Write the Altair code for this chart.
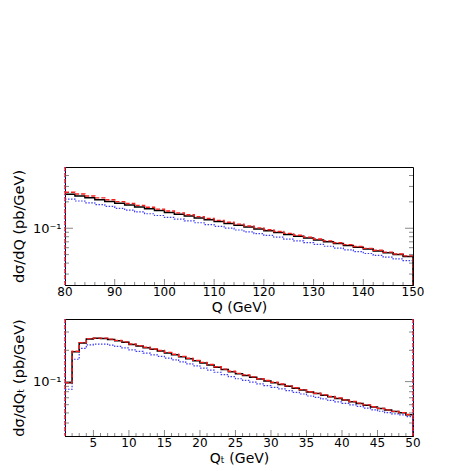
import altair as alt
import pandas as pd

# ---------------- data ----------------
q_lo, q_hi, q_bw = 80, 150, 2
q_black = [0.245, 0.2335, 0.2225, 0.2121, 0.2021, 0.1926, 0.1836, 0.1749, 0.1667, 0.1589,
           0.1514, 0.1443, 0.1375, 0.1311, 0.1249, 0.1190, 0.1134, 0.1081, 0.1030, 0.0982,
           0.0936, 0.0892, 0.0850, 0.0810, 0.0772, 0.0735, 0.0701, 0.0668, 0.0636, 0.0606,
           0.0578, 0.0551, 0.0525, 0.0500, 0.0477]
q_red = [0.258, 0.2455, 0.2335, 0.222, 0.2115, 0.2012, 0.1915, 0.1822, 0.1735, 0.1652,
         0.1572, 0.1497, 0.1427, 0.1358, 0.1293, 0.1230, 0.1171, 0.1115, 0.1062, 0.1011,
         0.0963, 0.0917, 0.0873, 0.0831, 0.0791, 0.0753, 0.0717, 0.0683, 0.0650, 0.0619,
         0.0589, 0.0561, 0.0534, 0.0508, 0.0484]
q_blue = [0.215, 0.2045, 0.195, 0.1858, 0.1772, 0.1688, 0.1611, 0.1536, 0.1464, 0.1397,
          0.1332, 0.1270, 0.1211, 0.1155, 0.1101, 0.1050, 0.1001, 0.0955, 0.0911, 0.0868,
          0.0828, 0.0790, 0.0753, 0.0718, 0.0685, 0.0653, 0.0623, 0.0594, 0.0566, 0.0540,
          0.0515, 0.0491, 0.0469, 0.0447, 0.0428]

qt_lo, qt_hi, qt_bw = 1, 50, 1
qt_black = [0.0977, 0.194, 0.2355, 0.257, 0.2606, 0.260, 0.254, 0.247, 0.2388, 0.228,
            0.2198, 0.2118, 0.2042, 0.1968, 0.1888, 0.1816, 0.1738, 0.166, 0.1585, 0.1514,
            0.1445, 0.1374, 0.1309, 0.1247, 0.1191, 0.1148, 0.1102, 0.1057, 0.1016, 0.0977,
            0.0940, 0.0902, 0.0865, 0.0832, 0.0794, 0.0767, 0.0741, 0.0714, 0.0690, 0.0664,
            0.0640, 0.0617, 0.0593, 0.0570, 0.0550, 0.0532, 0.0515, 0.0501, 0.0481]
qt_red = [0.0975, 0.196, 0.237, 0.259, 0.262, 0.262, 0.256, 0.249, 0.241, 0.230,
          0.222, 0.214, 0.206, 0.199, 0.191, 0.183, 0.175, 0.168, 0.160, 0.153,
          0.146, 0.139, 0.132, 0.126, 0.120, 0.116, 0.111, 0.1065, 0.1025, 0.0985,
          0.0948, 0.0910, 0.0872, 0.0838, 0.0800, 0.0773, 0.0746, 0.0719, 0.0695, 0.0668,
          0.0645, 0.0621, 0.0597, 0.0574, 0.0553, 0.0535, 0.0518, 0.0503, 0.0483]
qt_blue = [0.0845, 0.164, 0.209, 0.226, 0.229, 0.229, 0.224, 0.218, 0.211, 0.202,
           0.195, 0.188, 0.181, 0.175, 0.168, 0.162, 0.155, 0.148, 0.142, 0.135,
           0.129, 0.123, 0.117, 0.1115, 0.1065, 0.103, 0.0990, 0.0952, 0.0917, 0.0882,
           0.0850, 0.0818, 0.0787, 0.0760, 0.0727, 0.0705, 0.0683, 0.0660, 0.0640, 0.0617,
           0.0597, 0.0577, 0.0556, 0.0536, 0.0519, 0.0504, 0.0489, 0.0478, 0.0461]

q_ydom = [0.0225, 0.5]
qt_ydom = [0.03, 0.4]
q_xlabels = [80, 90, 100, 110, 120, 130, 140, 150]
qt_xlabels = [5, 10, 15, 20, 25, 30, 35, 40, 45, 50]
q_xmajor = [90, 100, 110, 120, 130, 140]
qt_xmajor = [5, 10, 15, 20, 25, 30, 35, 40, 45]
q_ymajor = [0.1]
q_yminor = [0.03, 0.04, 0.05, 0.06, 0.07, 0.08, 0.09, 0.2, 0.3, 0.4]
qt_yminor = [0.04, 0.05, 0.06, 0.07, 0.08, 0.09, 0.2, 0.3]

FONT = "DejaVu Sans"
W = 348


def steps(lo, bw, vals, name, ylow):
    rows = []
    for i, v in enumerate(vals):
        a = lo + i * bw
        rows.append({"x": a, "y": v, "s": name, "o": 2 * i})
        rows.append({"x": a + bw, "y": v, "s": name, "o": 2 * i + 1})
    rows.append({"x": lo + len(vals) * bw, "y": ylow, "s": name, "o": 2 * len(vals)})
    return rows


def panel(lo, hi, bw, black, red, blue, ydom, xlabels, xmajor, ymajor, yminor,
          xtitle, ytitle, H, edge_full_right):
    ylow = ydom[0] * 0.5
    rows = steps(lo, bw, black, "black", ylow) + steps(lo, bw, red, "red", ylow) + \
        steps(lo, bw, blue, "blue", ylow)
    df = pd.DataFrame(rows)
    xsc = alt.Scale(domain=[lo, hi], nice=False, zero=False)
    ysc = alt.Scale(type="log", domain=ydom, nice=False)
    xenc = alt.X("x:Q", scale=xsc, axis=alt.Axis(
        values=xlabels, ticks=False, grid=False, labels=False,
        title=xtitle, titleFont=FONT, titleFontSize=14, titleFontWeight="normal",
        titleColor="black", titlePadding=15, domainColor="black"))
    yenc = alt.Y("y:Q", scale=ysc, axis=alt.Axis(
        values=[0.1], labelExpr="'10⁻¹'", ticks=False, grid=False, labelFontSize=13,
        labelFont=FONT, labelColor="black", labelPadding=4,
        title=ytitle, titleFont=FONT, titleFontSize=14.5, titleFontWeight="normal",
        titleColor="black", titlePadding=6, domainColor="black"))

    def line(name, color, dash, sw):
        kw = dict(color=color, strokeWidth=sw, clip=True, interpolate="linear")
        if dash:
            kw["strokeDash"] = dash
        return alt.Chart(df).transform_filter(alt.datum.s == name).mark_line(**kw).encode(
            x=xenc, y=yenc, order="o:Q")

    l_blue = line("blue", "#3a3aff", [1.5, 1.5], 1.2)
    l_black = line("black", "black", None, 1.5)
    l_red = line("red", "#ff1a1a", [4, 2], 1.4)

    edges = [{"x": lo, "s": "blue"}, {"x": lo, "s": "red"}]
    if edge_full_right:
        edges += [{"x": hi, "s": "blue"}, {"x": hi, "s": "red"}]
    edf = pd.DataFrame(edges)
    e_blue = alt.Chart(edf).transform_filter(alt.datum.s == "blue").mark_rule(
        color="#3a3aff", strokeDash=[1.5, 1.5], strokeWidth=1.2).encode(
        x=alt.X("x:Q", scale=xsc), y=alt.value(0), y2=alt.value(H))
    e_red = alt.Chart(edf).transform_filter(alt.datum.s == "red").mark_rule(
        color="#ff1a1a", strokeDash=[4, 2], strokeWidth=1.2).encode(
        x=alt.X("x:Q", scale=xsc), y=alt.value(0), y2=alt.value(H))

    ymaj = pd.DataFrame({"y": ymajor})
    ymin = pd.DataFrame({"y": yminor})
    ticks = []
    for d, size in ((ymaj, 8), (ymin, 4)):
        for xpos in (size / 2, W - size / 2):
            ticks.append(alt.Chart(d).mark_tick(color="#555", size=size, thickness=1,
                                                orient="horizontal").encode(
                y=alt.Y("y:Q", scale=ysc), x=alt.value(xpos)))
    xmaj = pd.DataFrame({"x": xmajor})
    minors = [lo + i * bw for i in range(1, int((hi - lo) / bw)) if (lo + i * bw) not in xmajor]
    xmin = pd.DataFrame({"x": minors})
    for d, size in ((xmaj, 6), (xmin, 3)):
        ticks.append(alt.Chart(d).mark_tick(color="#555", size=size, thickness=1,
                                            orient="vertical").encode(
            x=alt.X("x:Q", scale=xsc), y=alt.value(H - size / 2)))

    labels = alt.Chart(pd.DataFrame({"x": xlabels})).mark_text(
        baseline="top", align="center", font=FONT, fontSize=12, color="black",
        clip=False).encode(
        x=alt.X("x:Q", scale=xsc), y=alt.value(H + 2), text=alt.Text("x:Q", format="d"))

    return alt.layer(l_blue, l_black, l_red, e_blue, e_red, *ticks, labels).properties(
        width=W, height=H)


top = panel(q_lo, q_hi, q_bw, q_black, q_red, q_blue, q_ydom, q_xlabels, q_xmajor,
            q_ymajor, q_yminor, "Q (GeV)", "dσ/dQ (pb/GeV)", 118, False)
bot = panel(qt_lo, qt_hi, qt_bw, qt_black, qt_red, qt_blue, qt_ydom, qt_xlabels, qt_xmajor,
            q_ymajor, qt_yminor, "Qₜ (GeV)", "dσ/dQₜ (pb/GeV)", 117, True)

chart = alt.vconcat(top, bot, spacing=2).properties(
    padding={"top": 157, "left": 2, "right": 5, "bottom": 2}
).configure_view(stroke="black", strokeWidth=1)

chart.save("out.html", embed_options={"renderer": "svg", "actions": False})
